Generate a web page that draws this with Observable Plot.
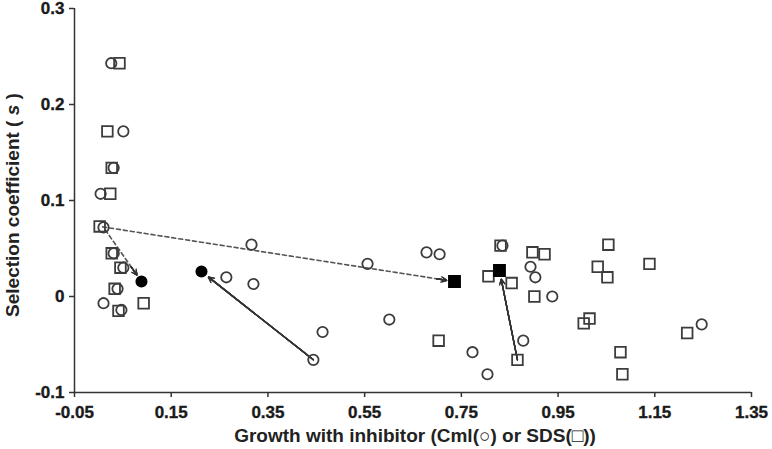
<!DOCTYPE html>
<html><head><meta charset="utf-8">
<script src="https://cdn.jsdelivr.net/npm/d3@7"></script>
<script src="https://cdn.jsdelivr.net/npm/@observablehq/plot@0.6"></script>
<style>
body{margin:0;background:#fff;}
#chart svg{display:block;}
#chart svg g[aria-label*="tick"] path, #chart svg g[aria-label*="axis"] line{stroke-width:1.5;stroke:#333;}
</style></head><body><div id="chart"></div>
<script>
// Tick values and labels
const xTicks = [-0.05, 0.15, 0.35, 0.55, 0.75, 0.95, 1.15, 1.35];
const xTickLabels = ["-0.05", "0.15", "0.35", "0.55", "0.75", "0.95", "1.15", "1.35"];
const yTicks = [-0.1, 0, 0.1, 0.2, 0.3];
const yTickLabels = ["-0.1", "0", "0.1", "0.2", "0.3"];

// Open circles: growth with Cml
const cmlX = [0.026, 0.051, 0.031, 0.004, 0.010, 0.031, 0.051, 0.039, 0.010, 0.047,
  0.264, 0.316, 0.320, 0.463, 0.444, 0.556, 0.601, 0.678, 0.705, 0.773, 0.804, 0.835,
  0.878, 0.893, 0.903, 0.938, 1.247];
const cmlY = [0.243, 0.172, 0.134, 0.107, 0.072, 0.045, 0.030, 0.008, -0.007, -0.014,
  0.020, 0.054, 0.013, -0.037, -0.066, 0.034, -0.024, 0.046, 0.044, -0.058, -0.081, 0.053,
  -0.046, 0.031, 0.020, 0.000, -0.029];

// Open squares: growth with SDS
const sdsX = [0.043, 0.018, 0.027, 0.024, 0.002, 0.027, 0.045, 0.033, 0.093, 0.041,
  0.703, 0.806, 0.831, 0.854, 0.866, 0.897, 0.922, 0.901, 1.054, 1.032, 1.052, 1.139,
  1.003, 1.015, 1.079, 1.083, 1.217];
const sdsY = [0.243, 0.172, 0.134, 0.107, 0.073, 0.045, 0.030, 0.008, -0.007, -0.015,
  -0.046, 0.021, 0.053, 0.014, -0.066, 0.046, 0.044, 0.000, 0.054, 0.031, 0.020, 0.034,
  -0.028, -0.023, -0.058, -0.081, -0.038];

// Filled markers
const filledCircleX = [0.0885, 0.2126];
const filledCircleY = [0.0156, 0.026];
const filledSquareX = [0.7358, 0.8288];
const filledSquareY = [0.0156, 0.0271];

// Arrows (from -> to)
const dashFromX = [0.002, 0.010];
const dashFromY = [0.073, 0.072];
const dashToX = [0.7358, 0.0885];
const dashToY = [0.0156, 0.0156];
const solidFromX = [0.444, 0.866];
const solidFromY = [-0.066, -0.066];
const solidToX = [0.2126, 0.8288];
const solidToY = [0.026, 0.0271];

const W = 772, H = 449, ML = 74, MR = 21, MT = 8, MB = 57;
const xDomain = [-0.05, 1.35], yDomain = [-0.1, 0.3];

const cml = cmlX.map((x, i) => ({x, y: cmlY[i]}));
const sds = sdsX.map((x, i) => ({x, y: sdsY[i]}));
const fc = filledCircleX.map((x, i) => ({x, y: filledCircleY[i]}));
const fs = filledSquareX.map((x, i) => ({x, y: filledSquareY[i]}));
const dash = dashFromX.map((x, i) => ({x1: x, y1: dashFromY[i], x2: dashToX[i], y2: dashToY[i]}));
const solid = solidFromX.map((x, i) => ({x1: x, y1: solidFromY[i], x2: solidToX[i], y2: solidToY[i]}));

// pixel length of each dashed arrow (only used to pick a short head segment along the same line)
const pxPerX = (W - ML - MR) / (xDomain[1] - xDomain[0]);
const pxPerY = (H - MT - MB) / (yDomain[1] - yDomain[0]);
const dashHead = dash.map(d => {
  const len = Math.hypot((d.x1 - d.x2) * pxPerX, (d.y1 - d.y2) * pxPerY);
  const k = Math.min(1, 18 / len);
  return {x1: d.x2 + (d.x1 - d.x2) * k, y1: d.y2 + (d.y1 - d.y2) * k, x2: d.x2, y2: d.y2};
});

const lineColor = "#555";
const headLens = [7, 5.5, 4, 2.5, 1.2];
function heads(data, inset) {
  return headLens.map(h => Plot.arrow(data, {x1: "x1", y1: "y1", x2: "x2", y2: "y2",
    stroke: "#333", strokeWidth: 1.3, headLength: h, headAngle: 55, insetEnd: inset}));
}

const plot = Plot.plot({
  width: W, height: H,
  marginLeft: ML, marginRight: MR, marginTop: MT, marginBottom: MB,
  style: {fontFamily: "'Liberation Sans', Arial, sans-serif", fontSize: "17px", color: "#222", background: "#fff", overflow: "visible"},
  x: {domain: xDomain, ticks: xTicks, tickFormat: () => "", tickSize: 5, label: null},
  y: {domain: yDomain, ticks: yTicks, tickFormat: () => "", tickSize: 5, label: null},
  marks: [
    Plot.ruleX([xDomain[0]], {stroke: "#333", strokeWidth: 1.5}),
    Plot.ruleY([yDomain[0]], {stroke: "#333", strokeWidth: 1.5}),
    Plot.text(xTicks, {x: d => d, y: yDomain[0], text: (d, i) => xTickLabels[i], dy: 20,
      fontWeight: "bold", fontSize: 17, fill: "#1a1a1a", stroke: "#1a1a1a", strokeWidth: 0.35, textAnchor: "middle"}),
    Plot.text(yTicks, {x: xDomain[0], y: d => d, text: (d, i) => yTickLabels[i], dx: -10,
      fontWeight: "bold", fontSize: 17, fill: "#1a1a1a", stroke: "#1a1a1a", strokeWidth: 0.35, textAnchor: "end"}),
    Plot.arrow(dash, {x1: "x1", y1: "y1", x2: "x2", y2: "y2", stroke: lineColor, strokeWidth: 1.6,
      strokeDasharray: "4,3", headLength: 0, insetEnd: 12, insetStart: 3}),
    ...heads(dashHead, 8),
    Plot.arrow(solid, {x1: "x1", y1: "y1", x2: "x2", y2: "y2", stroke: lineColor, strokeWidth: 1.4,
      headLength: 0, insetStart: 6, insetEnd: 9}),
    ...heads(solid, 9),
    Plot.dot(cml, {x: "x", y: "y", r: 5.2, stroke: "#3c3c3c", strokeWidth: 1.8, fill: "none"}),
    Plot.dot(sds, {x: "x", y: "y", r: 6, symbol: "square", stroke: "#3c3c3c", strokeWidth: 1.8, fill: "none"}),
    Plot.dot(fc, {x: "x", y: "y", r: 5.3, fill: "#000", stroke: "#000"}),
    Plot.dot(fs, {x: "x", y: "y", r: 6.4, symbol: "square", fill: "#000", stroke: "#000"})
  ]
});

const svg = d3.select(plot);
svg.append("text")
  .attr("x", 415).attr("y", 442)
  .attr("text-anchor", "middle")
  .style("font-size", "19px").style("font-weight", "bold").attr("fill", "#222")
  .text("Growth with inhibitor (Cml(○) or SDS(□))");
const yl = svg.append("text")
  .attr("transform", "translate(19,205) rotate(-90)")
  .attr("text-anchor", "middle")
  .style("font-size", "19px").style("font-weight", "bold").attr("fill", "#222");
yl.append("tspan").text("Selection coefficient ( ");
yl.append("tspan").style("font-style", "italic").text("s");
yl.append("tspan").text(" )");

document.getElementById("chart").appendChild(plot);
</script>
</body></html>
